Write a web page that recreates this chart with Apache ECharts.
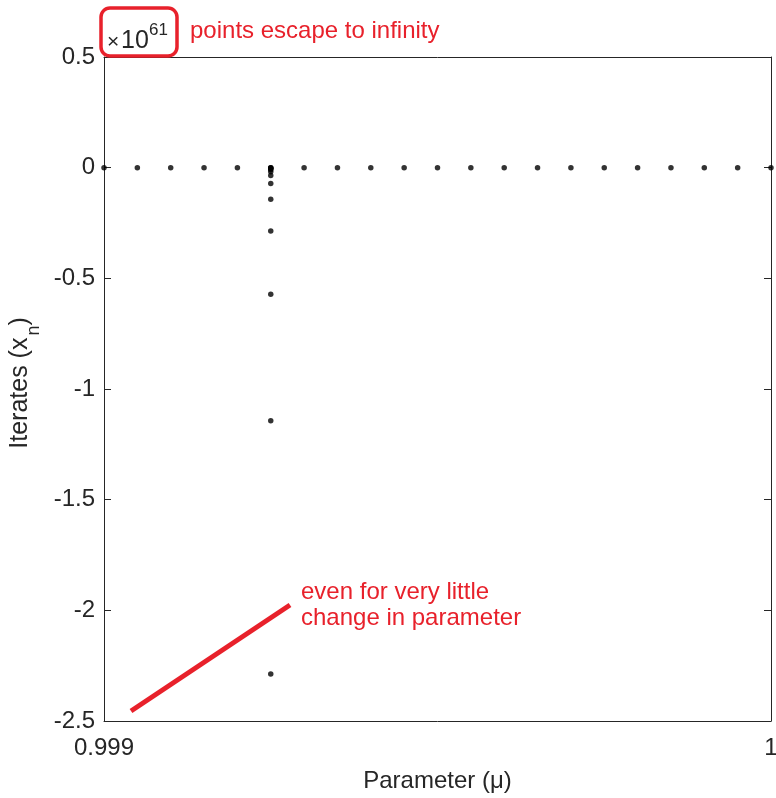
<!DOCTYPE html>
<html>
<head>
<meta charset="utf-8">
<script src="https://cdn.jsdelivr.net/npm/echarts@6/dist/echarts.min.js"></script>
<style>html,body{margin:0;padding:0;background:#fff;overflow:hidden}#c{width:776px;height:798px}</style>
</head>
<body>
<div id="c"></div>
<script>
// Values in units of 1e61 (axis exponent shown as ×10^61)
const exponent = 61;
const muValues = [0.999, 0.99905, 0.9991, 0.99915, 0.9992, 0.99925, 0.9993, 0.99935, 0.9994, 0.99945, 0.9995,
  0.99955, 0.9996, 0.99965, 0.9997, 0.99975, 0.9998, 0.99985, 0.9999, 0.99995, 1.0];
const flatIterates = [0, 0, 0, 0, 0, 0, 0, 0, 0, 0, 0, 0, 0, 0, 0, 0, 0, 0, 0, 0, 0];
const escapeMu = 0.99925;
const escapeIterates = [0, -0.0022, -0.0045, -0.0089, -0.0179, -0.0358, -0.0715, -0.143, -0.286, -0.572, -1.144, -2.288];
const xTicks = [0.999, 1];
const yMin = -2.5, yMax = 0.5, yStep = 0.5;

const points = muValues.map((m, i) => [m, flatIterates[i]]).concat(escapeIterates.map(v => [escapeMu, v]));

const FONT = '"Liberation Sans", Arial, sans-serif';
const RED = '#e8212b';
const TXT = '#262626';
const chart = echarts.init(document.getElementById('c'), null, {renderer: 'canvas', width: 776, height: 798});
const axisLineStyle = {color: '#262626', width: 1};
chart.setOption({
  animation: false,
  backgroundColor: '#fff',
  grid: {left: 104, right: 5, top: 57, bottom: 77, containLabel: false, outerBoundsMode: 'none'},
  xAxis: [{
    type: 'value', min: 0.999, max: 1, position: 'bottom',
    name: 'Parameter (μ)', nameLocation: 'middle', nameGap: 48,
    nameTextStyle: {fontFamily: FONT, fontSize: 24, color: TXT},
    axisLine: {show: true, onZero: false, lineStyle: axisLineStyle},
    axisTick: {show: true, inside: true, length: 7, customValues: xTicks, lineStyle: axisLineStyle},
    axisLabel: {customValues: xTicks, fontFamily: FONT, fontSize: 24, color: TXT, margin: 15,
      formatter: v => (Math.abs(v - 1) < 1e-9 ? '1' : String(+v.toFixed(3)))},
    splitLine: {show: false}
  }, {
    type: 'value', min: 0.999, max: 1, position: 'top',
    axisLine: {show: true, onZero: false, lineStyle: axisLineStyle},
    axisTick: {show: true, inside: true, length: 7, customValues: xTicks, lineStyle: axisLineStyle},
    axisLabel: {show: false}, splitLine: {show: false}
  }],
  yAxis: [{
    type: 'value', min: yMin, max: yMax, interval: yStep, position: 'left',
    name: '{m0|Iterates (x}{sub|n}{m|)}', nameLocation: 'middle', nameGap: 55, nameRotate: 90,
    nameTextStyle: {fontFamily: FONT, fontSize: 25, color: TXT,
      rich: {
        m0: {fontFamily: FONT, fontSize: 25, color: TXT, lineHeight: 25, verticalAlign: 'top', padding: [0, 0, 0, 12]},
        m: {fontFamily: FONT, fontSize: 25, color: TXT, lineHeight: 25, verticalAlign: 'top'},
        sub: {fontFamily: FONT, fontSize: 18, color: TXT, lineHeight: 18, verticalAlign: 'top', padding: [17, 0, 0, 2]}
      }},
    axisLine: {show: true, onZero: false, lineStyle: axisLineStyle},
    axisTick: {show: true, inside: true, length: 7, lineStyle: axisLineStyle},
    axisLabel: {fontFamily: FONT, fontSize: 24, color: TXT, margin: 9,
      formatter: v => String(+v.toFixed(1))},
    splitLine: {show: false}
  }, {
    type: 'value', min: yMin, max: yMax, interval: yStep, position: 'right',
    axisLine: {show: true, onZero: false, lineStyle: axisLineStyle},
    axisTick: {show: true, inside: true, length: 7, lineStyle: axisLineStyle},
    axisLabel: {show: false}, splitLine: {show: false}
  }],
  series: [{
    type: 'scatter', data: points, symbol: 'circle', symbolSize: 5.5,
    itemStyle: {color: '#000'}, clip: false
  }],
  graphic: [
    {type: 'rect', shape: {x: 101, y: 8, width: 76, height: 48, r: 9},
      style: {fill: 'none', stroke: RED, lineWidth: 3.5}, z: 100},
    {type: 'text', x: 107, y: 42, style: {text: '×', font: '21px ' + FONT, fill: TXT, verticalAlign: 'middle'}, z: 100},
    {type: 'text', x: 121, y: 41, style: {text: '10', font: '25px ' + FONT, fill: TXT, verticalAlign: 'middle'}, z: 100},
    {type: 'text', x: 149, y: 30, style: {text: String(exponent), font: '17px ' + FONT, fill: TXT, verticalAlign: 'middle'}, z: 100},
    {type: 'text', x: 190, y: 31, style: {text: 'points escape to infinity', font: '24px ' + FONT, fill: RED, verticalAlign: 'middle'}, z: 100},
    {type: 'line', shape: {x1: 131, y1: 711, x2: 290, y2: 605}, style: {stroke: RED, lineWidth: 5}, z: 100},
    {type: 'text', x: 301, y: 579, style: {text: 'even for very little\nchange in parameter', font: '24px ' + FONT, fill: RED, lineHeight: 26}, z: 100}
  ]
});
</script>
</body>
</html>
